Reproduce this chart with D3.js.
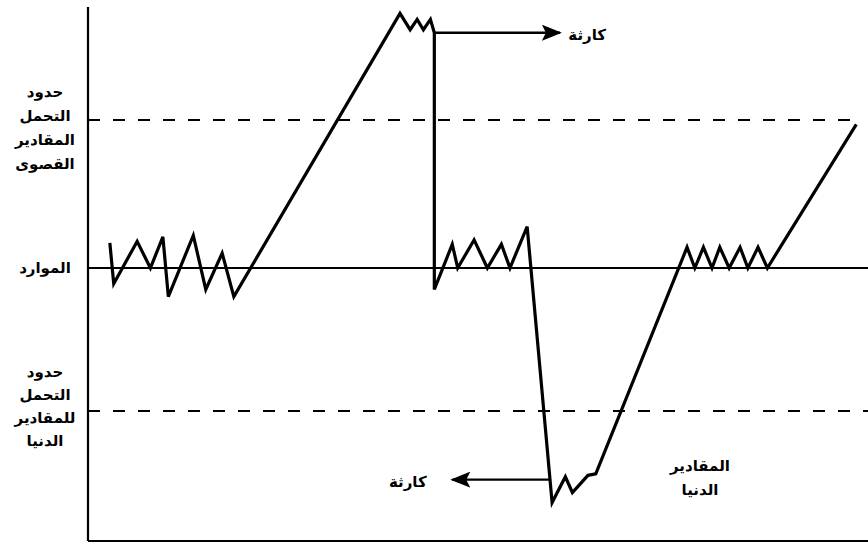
<!DOCTYPE html>
<html>
<head>
<meta charset="utf-8">
<script src="https://cdn.jsdelivr.net/npm/d3@7"></script>
<style>
  body { margin: 0; background: #fff; }
  text { font-family: "DejaVu Sans", sans-serif; font-weight: bold; fill: #000; }
</style>
</head>
<body>
<svg id="chart"></svg>
<script>
const width = 868;
const height = 549;

// time (0..100) vs level (0 = resources, 1 = upper limit, -1 = lower limit)
const timeValues = [2.8, 3.3, 6.3, 8.0, 9.6, 10.3, 13.5, 15.1, 17.2, 18.7,
  40.0, 41.3, 42.2, 43.0, 43.9, 44.4, 44.4,
  46.7, 47.4, 49.5, 51.2, 53.0, 54.1, 56.3,
  59.5, 61.2, 62.1, 64.1, 65.1,
  76.8, 77.8, 78.9, 80.0, 81.0, 82.2, 83.6, 84.6, 85.9, 87.1, 98.5];
const levelValues = [0.17, -0.11, 0.18, 0, 0.21, -0.20, 0.22, -0.15, 0.10, -0.20,
  1.72, 1.61, 1.68, 1.61, 1.68, 1.59, -0.15,
  0.16, 0, 0.19, 0, 0.16, 0, 0.28,
  -1.64, -1.46, -1.57, -1.45, -1.44,
  0.14, 0, 0.14, 0, 0.14, 0, 0.14, 0, 0.14, 0, 0.97];

// reference levels
const refLevels = [1, 0, -1];
const refStyles = ["dashed", "solid", "dashed"];

// arrows: [fromTime, toTime, level]
const arrows = [[44.4, 60.5, 1.59], [59.2, 46.7, -1.48]];
const arrowLabels = ["كارثة", "كارثة"];
const arrowLabelTimes = [64.0, 41.0];

const upperLabel = ["حدود", "التحمل", "المقادير", "القصوى"];
const midLabel = ["الموارد"];
const lowerLabel = ["حدود", "التحمل", "للمقادير", "الدنيا"];
const minLabel = ["المقادير", "الدنيا"];

const points = timeValues.map((t, i) => ({ t: t, v: levelValues[i] }));

const x = d3.scaleLinear().domain([0, 100]).range([88, 868]);
const y = d3.scaleLinear().domain([-1, 0, 1]).range([411, 268, 120]);

const svg = d3.select("#chart")
  .attr("width", width)
  .attr("height", height);

svg.append("defs").append("marker")
  .attr("id", "head")
  .attr("markerUnits", "userSpaceOnUse")
  .attr("markerWidth", 20)
  .attr("markerHeight", 16)
  .attr("refX", 18)
  .attr("refY", 8)
  .attr("orient", "auto")
  .append("path")
  .attr("d", "M0,0 L20,8 L0,16 L4,8 Z")
  .attr("fill", "#000");

// axes frame
svg.append("line")
  .attr("x1", x(0)).attr("x2", x(0))
  .attr("y1", 7).attr("y2", 541)
  .attr("stroke", "#000").attr("stroke-width", 2.2);
svg.append("line")
  .attr("x1", x(0)).attr("x2", x(100))
  .attr("y1", 541).attr("y2", 541)
  .attr("stroke", "#000").attr("stroke-width", 2.2);

// reference lines
svg.selectAll(".ref")
  .data(refLevels)
  .enter().append("line")
  .attr("class", "ref")
  .attr("x1", x(0))
  .attr("x2", (d, i) => i === 0 ? x(99) : x(100))
  .attr("y1", d => y(d))
  .attr("y2", d => y(d))
  .attr("stroke", "#000")
  .attr("stroke-width", 1.8)
  .attr("stroke-dasharray", (d, i) => refStyles[i] === "dashed" ? "12,13" : null);

// the resource path
const line = d3.line().x(d => x(d.t)).y(d => y(d.v));
svg.append("path")
  .datum(points)
  .attr("d", line)
  .attr("fill", "none")
  .attr("stroke", "#000")
  .attr("stroke-width", 3.2);

// catastrophe arrows
svg.selectAll(".arrow")
  .data(arrows)
  .enter().append("line")
  .attr("class", "arrow")
  .attr("x1", d => x(d[0]))
  .attr("x2", d => x(d[1]))
  .attr("y1", d => y(d[2]))
  .attr("y2", d => y(d[2]))
  .attr("stroke", "#000")
  .attr("stroke-width", 2.4)
  .attr("marker-end", "url(#head)");

svg.selectAll(".alabel")
  .data(arrowLabels)
  .enter().append("text")
  .attr("class", "alabel")
  .attr("x", (d, i) => x(arrowLabelTimes[i]))
  .attr("y", (d, i) => y(arrows[i][2]) + 7)
  .attr("text-anchor", "middle")
  .attr("font-size", 15)
  .text(d => d);

function stack(lines, cx, top, step) {
  svg.append("g").selectAll("text")
    .data(lines)
    .enter().append("text")
    .attr("x", cx)
    .attr("y", (d, i) => top + i * step)
    .attr("text-anchor", "middle")
    .attr("font-size", 15)
    .text(d => d);
}

stack(upperLabel, 45, 97, 24);
stack(midLabel, 45, 273, 24);
stack(lowerLabel, 45, 377, 23);
stack(minLabel, 700, 471, 24);
</script>
</body>
</html>
